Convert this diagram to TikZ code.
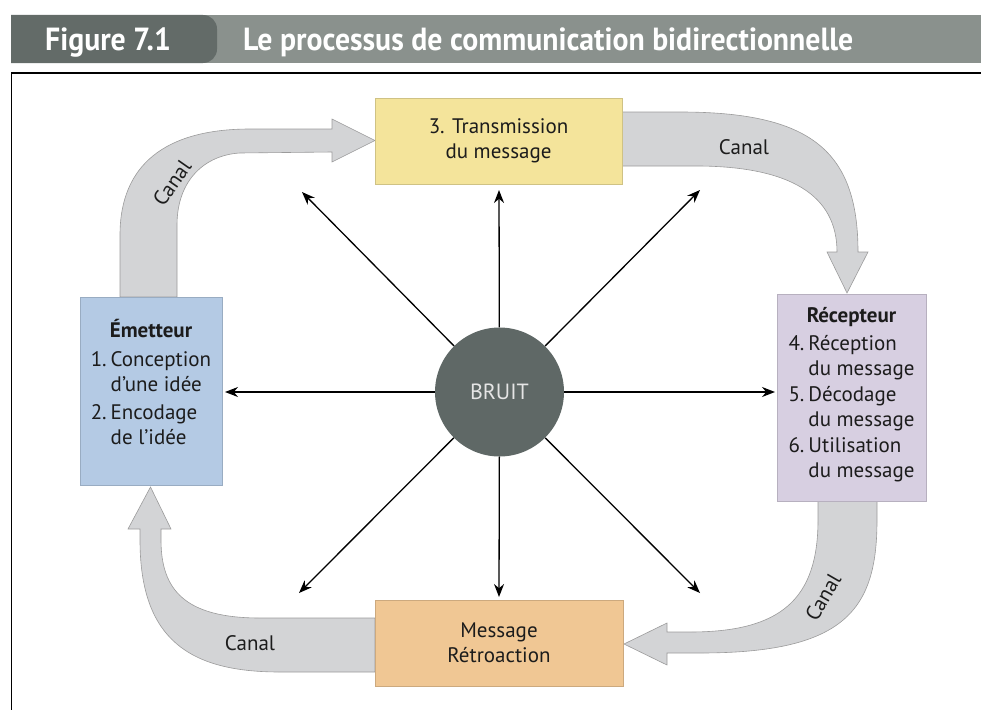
\documentclass[tikz,border=0pt]{standalone}
\usepackage{fontspec}
\setmainfont{PT Sans}
\newfontfamily\hdrfont[FakeStretch=0.93]{PT Sans Bold}
\usetikzlibrary{arrows.meta}
\definecolor{hdark}{HTML}{636B68}
\definecolor{hlight}{HTML}{8A918D}
\definecolor{yel}{HTML}{F4E49B}
\definecolor{blu}{HTML}{B4CAE4}
\definecolor{pur}{HTML}{D7CFE1}
\definecolor{ora}{HTML}{F0C794}
\definecolor{canalfill}{HTML}{D3D4D6}
\definecolor{canalline}{HTML}{9B9B9B}
\definecolor{bruitc}{HTML}{5F6866}
\definecolor{txt}{HTML}{1C1C1C}
\tikzset{
  boxnode/.style={inner sep=0pt, draw=#1!85!black, line width=0.5pt, fill=#1,
     text=txt, font=\fontsize{21}{25}\selectfont, align=center},
  canal/.style={fill=canalfill, draw=canalline, line width=0.6pt, line join=miter},
  canallbl/.style={text=txt, font=\fontsize{21}{25}\selectfont, inner sep=0pt},
  noise/.style={line width=1.3pt, -{Stealth[length=13pt,width=10pt]}},
  hdr/.style={text=white, font=\hdrfont\fontsize{32}{34}\selectfont, inner sep=0pt}
}
\begin{document}
\begin{tikzpicture}[x=1pt,y=-1pt]
\useasboundingbox (0,0) rectangle (981,709);
% header
\begin{scope}
\clip (11,15) rectangle (981,63);
\fill[hlight] (11,15) rectangle (981,63);
\fill[hdark, rounded corners=14pt] (-30,15) rectangle (217,63);
\end{scope}
\node[hdr, anchor=base west] (fig) at (45,50) {Figure 7.1};
\node[hdr, anchor=base west] (title) at (243,50) {Le processus de communication bidirectionnelle};
% frame
\draw[line width=1.6pt] (11.5,712) -- (11.5,73) -- (985,73);

% canal shapes
% top-left
\path[canal] (120,297) -- (120,235) .. controls (120,165) and (165,129) .. (250,129)
  -- (332,129) -- (332,119) -- (375,140.5) -- (332,162) -- (332,152) -- (240,153)
  .. controls (205,155) and (177,180) .. (177,225) -- (177,297) -- cycle;
% top-right
\path[canal] (560,112) -- (680,112) .. controls (810,112) and (858,150) .. (858,252)
  -- (868,252) -- (847,293) -- (827,252) -- (837,252)
  .. controls (837,195) and (790,167) .. (700,166) -- (560,166) -- cycle;
% bottom-right
\path[canal] (818,501) -- (818,520) .. controls (818,600) and (780,632) .. (690,632)
  -- (667,632) -- (667,623) -- (624,644) -- (667,665) -- (667,653) -- (700,653)
  .. controls (845,653) and (877,610) .. (877,520) -- (877,501) -- cycle;
% bottom-left
\path[canal] (375,618) -- (260,618) .. controls (185,618) and (161,590) .. (161,540)
  -- (161,529) -- (171,529) -- (150.5,487) -- (128,529) -- (140,529) -- (140,540)
  .. controls (140,640) and (190,672) .. (280,672) -- (375,672) -- cycle;

\node[canallbl, rotate=55] (c1) at (172,183) {Canal};
\node[canallbl] (c2) at (744,147) {Canal};
\node[canallbl, rotate=60] (c3) at (823,597) {Canal};
\node[canallbl] (c4) at (250,643) {Canal};

% boxes
\node[boxnode=yel, minimum width=247pt, minimum height=86pt] (trans) at (498.5,141)
  {\fontsize{21}{27}\selectfont 3. Transmission\\du message};
\node[boxnode=ora, minimum width=248pt, minimum height=86pt] (retro) at (499,643)
  {\fontsize{21}{28}\selectfont Message\\Rétroaction};
\node[boxnode=blu, minimum width=142pt, minimum height=188pt, anchor=north west] (emet) at (80,297) {};
\node[text=txt, font=\fontsize{21}{25}\selectfont, inner sep=0pt] (emtxt) at (151,386)
  {\begin{tabular}{@{}r@{\hspace{4pt}}l@{}}
   \multicolumn{2}{c}{\bfseries Émetteur}\\[4pt]
   1. & Conception\\
      & d’une idée\\[3pt]
   2. & Encodage\\
      & de l’idée
   \end{tabular}};
\node[boxnode=pur, minimum width=149pt, minimum height=207pt, anchor=north west] (recep) at (777,294) {};
\node[text=txt, font=\fontsize{21}{25}\selectfont, inner sep=0pt] (rctxt) at (851.5,395)
  {\begin{tabular}{@{}r@{\hspace{4pt}}l@{}}
   \multicolumn{2}{c}{\bfseries Récepteur}\\[3pt]
   4. & Réception\\
      & du message\\[1pt]
   5. & Décodage\\
      & du message\\[1pt]
   6. & Utilisation\\
      & du message
   \end{tabular}};

% bruit
\node[circle, fill=bruitc, minimum size=129pt, inner sep=0pt, text=white!90!black,
  font=\fontsize{22}{24}\selectfont] (bruit) at (499.5,392) {BRUIT};

\coordinate (tN) at (499,190);
\coordinate (tS) at (499,597);
\coordinate (tW) at (225,392);
\coordinate (tE) at (775,392);
\coordinate (tNW) at (302,192);
\coordinate (tNE) at (700,190);
\coordinate (tSW) at (299,593);
\coordinate (tSE) at (700,593);
\foreach \t in {tN,tS,tW,tE,tNW,tNE,tSW,tSE}
  \draw[noise] (bruit) -- (\t);
\end{tikzpicture}
\end{document}
